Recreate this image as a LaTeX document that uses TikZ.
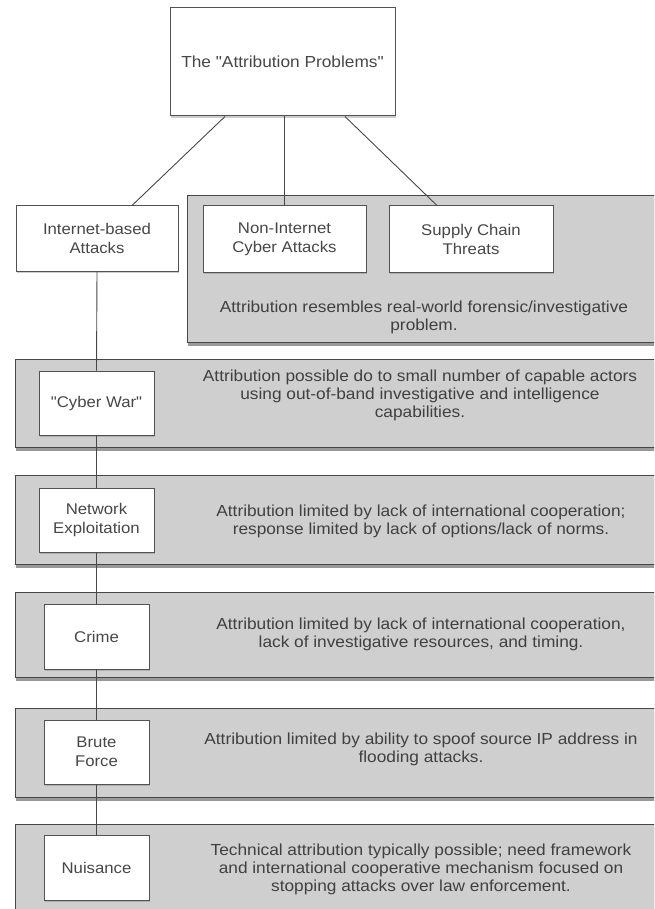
\documentclass[tikz,border=0pt]{standalone}
\usepackage{fontspec}
\setmainfont{Liberation Sans}[FakeStretch=1.08, Ligatures=TeXOff]
\usetikzlibrary{shadows}
\begin{document}
\begin{tikzpicture}[x=1pt,y=-1pt,
  panel/.style={draw=black!72, line width=1.3pt, fill=black!19, inner sep=0pt,
    anchor=north west,
    drop shadow={shadow xshift=0.5pt, shadow yshift=-3pt, opacity=0.5, fill=black!80}},
  wbox/.style={draw=black!68, line width=1pt, fill=white, inner sep=0pt, align=center,
    text=black!72, font=\fontsize{15.5}{19}\selectfont,
    drop shadow={shadow xshift=0.5pt, shadow yshift=-2pt, opacity=0.4}},
  ptext/.style={align=center, text=black!75, inner sep=0pt, font=\fontsize{16}{18}\selectfont},
  conn/.style={draw=black!72, line width=0.9pt}
]
\useasboundingbox (0,0) rectangle (654,909);
\begin{scope}
\clip (0,0) rectangle (654,909);
% panels
\node[panel, minimum width=480pt, minimum height=147pt] (p1) at (187,195) {};
\node[panel, minimum width=652pt, minimum height=88pt] (p2) at (15,359) {};
\node[panel, minimum width=652pt, minimum height=89pt] (p3) at (15,475) {};
\node[panel, minimum width=652pt, minimum height=85pt] (p4) at (15,592) {};
\node[panel, minimum width=652pt, minimum height=89pt] (p5) at (15,708) {};
\node[panel, minimum width=652pt, minimum height=95pt] (p6) at (15,824) {};
\end{scope}
% boxes
\node[wbox, minimum width=225pt, minimum height=108pt, font=\fontsize{16}{19}\selectfont] (top) at (282.5,62) {The "Attribution Problems"};
\node[wbox, minimum width=162pt, minimum height=65pt] (inet) at (97,238.5) {Internet-based\\Attacks};
\node[wbox, minimum width=163pt, minimum height=66pt] (nonint) at (284.5,239) {Non-Internet\\Cyber Attacks};
\node[wbox, minimum width=164pt, minimum height=66pt] (supply) at (471,239) {Supply Chain\\Threats};
\node[wbox, minimum width=115pt, minimum height=64pt] (cyber) at (96.5,403) {"Cyber War"};
\node[wbox, minimum width=115pt, minimum height=64pt] (network) at (96.5,520) {Network\\Exploitation};
\node[wbox, minimum width=105pt, minimum height=65pt] (crime) at (96.5,636.5) {Crime};
\node[wbox, minimum width=105pt, minimum height=64pt] (brute) at (96.5,752) {Brute\\Force};
\node[wbox, minimum width=105pt, minimum height=65pt] (nuisance) at (96.5,867.5) {Nuisance};
% panel texts
\node[ptext] (t1) at (424,317) {Attribution resembles real-world forensic/investigative\\problem.};
\node[ptext] (t2) at (420,395) {Attribution possible do to small number of capable actors\\using out-of-band investigative and intelligence\\capabilities.};
\node[ptext] (t3) at (421,521) {Attribution limited by lack of international cooperation;\\response limited by lack of options/lack of norms.};
\node[ptext] (t4) at (421,634) {Attribution limited by lack of international cooperation,\\lack of investigative resources, and timing.};
\node[ptext] (t5) at (421,749) {Attribution limited by ability to spoof source IP address in\\flooding attacks.};
\node[ptext] (t6) at (421,869) {Technical attribution typically possible; need framework\\and international cooperative mechanism focused on\\stopping attacks over law enforcement.};
% connectors
\draw[conn] ([xshift=-57.5pt]top.south) -- ([xshift=35pt]inet.north);
\draw[conn] ([xshift=2pt]top.south) -- (nonint.north);
\draw[conn] ([xshift=62.5pt]top.south) -- ([xshift=-34pt]supply.north);
\draw[conn] (inet.south) -- (cyber.north);
\draw[conn] (cyber.south) -- (network.north);
\draw[conn] (network.south) -- (crime.north);
\draw[conn] (crime.south) -- (brute.north);
\draw[conn] (brute.south) -- (nuisance.north);
\end{tikzpicture}
\end{document}
